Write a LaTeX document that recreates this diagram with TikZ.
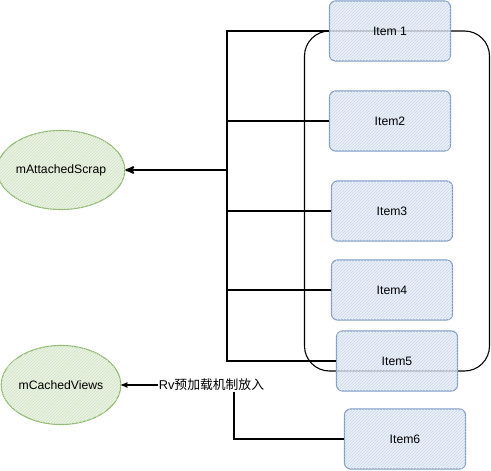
\documentclass[tikz,border=0pt]{standalone}
\usepackage{fontspec}
\setmainfont{Liberation Sans}
\newfontfamily\cjk{Noto Sans CJK SC}
\usetikzlibrary{arrows, shapes.geometric, patterns}
\definecolor{itemline}{HTML}{7E9BC4}
\definecolor{itemfill}{HTML}{E2EBF8}
\definecolor{poolline}{HTML}{8DB86E}
\definecolor{poolfill}{HTML}{EBF3E4}

\begin{document}
\begin{tikzpicture}[x=1pt,y=-1pt,>=stealth',
  item/.style={rectangle,rounded corners=6pt,draw=itemline,line width=1.1pt,
    fill=itemfill,fill opacity=0.7,text opacity=1,minimum width=121pt,minimum height=60pt,
    font=\fontsize{12.2}{14}\selectfont,
    postaction={pattern=north east lines,pattern color=itemline!40}},
  pool/.style={ellipse,draw=poolline,line width=1.1pt,fill=poolfill,inner sep=0pt,
    minimum width=119pt,minimum height=79pt,font=\fontsize{12.2}{14}\selectfont,
    postaction={pattern=north east lines,pattern color=poolline!40}},
  rv/.style={rectangle,rounded corners=25pt,draw,line width=1.1pt,
    minimum width=185pt,minimum height=340pt},
  elbow/.style={to path={-| (\tikztotarget)}},
  lbl/.style={fill=white,inner sep=1pt,font=\fontsize{12.8}{15}\selectfont}]
  \useasboundingbox (0,0) rectangle (491,471);
  \node[rv] (rv) at (397,201) {};
  \node[item] (1) at (390,31) {Item 1};
  \node[item] (2) at (390,121) {Item2};
  \node[item] (3) at (392,211) {Item3};
  \node[item] (4) at (392,290) {Item4};
  \node[item] (5) at (397,361) {Item5};
  \node[item] (6) at (405,439) {Item6};
  \node[pool] (scrap) at (61,170) {mAttachedScrap};
  \node[pool] (cached) at (61,385) {mCachedViews};
  \coordinate (bus) at (227,170);
  \coordinate (turn) at (234,385);
  \path[every edge/.style={draw,line width=1.2pt}]
    (1.west) edge[elbow] (bus)
    (2.west) edge[elbow] (bus)
    (3.west) edge[elbow] (bus)
    (4.west) edge[elbow] (bus)
    (5.west) edge[elbow] (bus)
    (bus) edge[->,line width=2pt] (scrap.east)
    (6.west) edge[elbow] (turn)
    (turn) edge[->] node[lbl,pos=0.2] {Rv{\cjk 预加载机制放入}} (cached.east);
\end{tikzpicture}
\end{document}
